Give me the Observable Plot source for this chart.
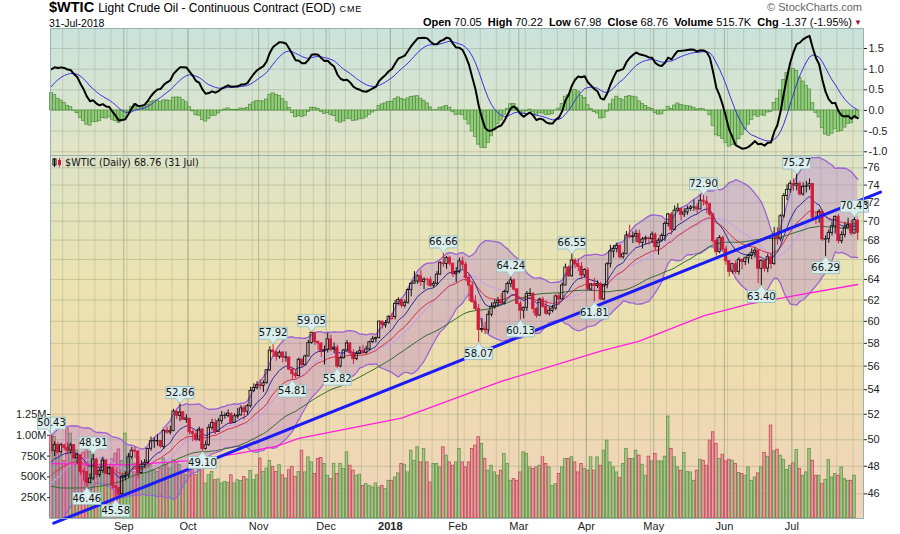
<!DOCTYPE html>
<html><head><meta charset="utf-8">
<script src="https://cdn.jsdelivr.net/npm/d3@7"></script>
<script src="https://cdn.jsdelivr.net/npm/@observablehq/plot@0.6"></script>
<style>
body{margin:0;background:#fff;width:900px;height:534px;position:relative;overflow:hidden;font-family:"Liberation Sans",Arial,sans-serif;color:#000;}
.abs{position:absolute;white-space:nowrap;}
</style></head><body>
<div class="abs" style="left:49px;top:0px;height:15px;line-height:15px;font-size:14.5px;font-weight:bold;">$WTIC <span style="font-weight:normal;font-size:12px;">Light Crude Oil - Continuous Contract (EOD)</span> <span style="font-weight:normal;font-size:9px;letter-spacing:0.8px;">CME</span></div>
<div class="abs" style="left:49px;top:17.5px;height:11px;line-height:11px;font-size:10.5px;">31-Jul-2018</div>
<div class="abs" style="right:38px;top:1px;line-height:12px;font-size:11px;color:#666;">&#169; StockCharts.com</div>
<div class="abs" style="right:48px;top:16px;line-height:12px;font-size:11px;"><b>Open</b> 70.05 &nbsp;<b>High</b> 70.22 &nbsp;<b>Low</b> 67.98 &nbsp;<b>Close</b> 68.76 &nbsp;<b>Volume</b> 515.7K &nbsp;<b>Chg</b> -1.37 (-1.95%)</div>
<div class="abs" style="left:854px;top:18px;line-height:9px;font-size:8px;color:#a0103a;">&#9660;</div>
<div class="abs" id="macdbg" style="left:50px;top:28px;width:813px;height:127px;background:linear-gradient(to bottom,#c9e2dc 0%,#d6e4d2 50%,#e3e4c4 100%);"></div>
<div class="abs" id="mainbg" style="left:50px;top:155px;width:813px;height:363px;background:linear-gradient(to bottom,#dde3c8 0%,#ebe3b0 35%,#efdcae 60%,#efd3bb 100%);"></div>
<script>
// ---------- trading calendar ----------
const monthLabels = ["Aug","Sep","Oct","Nov","Dec","2018","Feb","Mar","Apr","May","Jun","Jul"];
const monthYear   = [2017,2017,2017,2017,2017,2018,2018,2018,2018,2018,2018,2018];
const monthNum    = [8,9,10,11,12,1,2,3,4,5,6,7];
const monthDays = [
 [1,2,3,4,7,8,9,10,11,14,15,16,17,18,21,22,23,24,25,28,29,30,31],
 [1,5,6,7,8,11,12,13,14,15,18,19,20,21,22,25,26,27,28,29],
 [2,3,4,5,6,9,10,11,12,13,16,17,18,19,20,23,24,25,26,27,30,31],
 [1,2,3,6,7,8,9,10,13,14,15,16,17,20,21,22,24,27,28,29,30],
 [1,4,5,6,7,8,11,12,13,14,15,18,19,20,21,22,26,27,28,29],
 [2,3,4,5,8,9,10,11,12,16,17,18,19,22,23,24,25,26,29,30,31],
 [1,2,5,6,7,8,9,12,13,14,15,16,20,21,22,23,26,27,28],
 [1,2,5,6,7,8,9,12,13,14,15,16,19,20,21,22,23,26,27,28,29],
 [2,3,4,5,6,9,10,11,12,13,16,17,18,19,20,23,24,25,26,27,30],
 [1,2,3,4,7,8,9,10,11,14,15,16,17,18,21,22,23,24,25,29,30,31],
 [1,4,5,6,7,8,11,12,13,14,15,18,19,20,21,22,25,26,27,28,29],
 [2,3,5,6,9,10,11,12,13,16,17,18,19,20,23,24,25,26,27,30,31]
];
// ---------- prices (Aug 1 2017 - Jul 31 2018) ----------
const open = [
 50.21,49.15,49.61,49.05,49.57,49.37,49.18,49.58,48.60,48.83,47.60,47.57,46.77,47.10,48.50,47.36,47.66,48.42,47.44,47.85,46.55,46.43,45.98,
 47.22,47.32,48.68,49.17,49.10,47.50,48.08,48.25,49.31,49.88,49.87,49.90,49.45,50.70,50.56,50.67,52.20,51.87,52.15,51.55,
 51.63,50.60,50.41,50.01,50.78,49.30,49.60,50.93,51.31,50.61,51.46,51.89,51.86,52.03,51.30,51.82,51.91,52.48,52.20,52.65,53.91,54.16,
 54.39,54.31,54.55,55.63,57.36,57.19,56.80,57.18,56.73,56.75,55.69,55.34,55.15,56.56,56.08,56.84,58.03,58.94,58.12,57.98,57.31,
 57.41,58.35,57.48,57.61,55.97,56.68,57.37,57.98,57.15,56.61,57.05,57.31,57.15,57.47,58.10,58.37,58.48,59.98,59.63,59.85,
 60.20,60.39,61.62,62.00,61.45,61.74,62.97,63.58,63.79,64.31,63.74,63.96,63.94,63.38,63.58,64.48,65.60,65.52,66.13,65.57,64.51,
 64.74,65.79,65.46,64.16,63.38,61.80,61.14,59.21,59.30,59.18,60.61,61.33,61.69,61.91,61.67,62.78,63.56,63.90,63.02,
 61.63,61.00,61.26,62.58,62.59,61.16,60.53,62.03,61.37,60.70,60.97,61.20,62.35,62.05,63.41,65.18,64.31,65.89,65.54,65.26,64.39,
 64.87,63.00,63.52,63.36,63.55,62.05,63.43,65.52,66.81,67.08,67.38,66.21,66.53,68.46,68.30,68.37,68.65,67.69,68.06,68.18,68.09,
 68.56,67.26,67.94,68.42,69.71,70.72,69.05,71.15,71.35,70.71,70.95,71.32,71.48,71.50,71.27,72.25,72.12,71.85,70.70,67.89,66.74,68.20,
 67.02,65.82,64.76,65.51,64.74,65.96,65.73,66.11,66.35,66.65,66.90,65.05,65.86,65.08,66.21,65.53,68.59,68.07,70.52,72.77,73.46,
 74.15,73.93,74.13,72.95,73.81,73.84,74.12,70.37,70.34,71.02,68.05,68.09,68.75,69.45,70.47,67.88,68.53,69.29,69.60,68.68,70.05
];
const high = [
 50.43,49.84,49.80,49.73,49.65,49.76,49.74,49.63,48.98,48.84,47.78,47.62,47.45,48.91,48.56,47.81,48.67,48.44,47.96,47.93,46.58,46.47,47.39,
 47.60,48.95,49.42,49.42,49.17,48.41,48.50,49.35,50.20,50.13,50.38,49.93,50.76,50.97,51.06,52.40,52.30,52.86,52.22,51.96,
 51.70,50.75,50.72,50.98,50.86,49.90,51.18,51.60,51.60,51.65,52.22,52.10,52.34,52.11,52.03,52.45,52.69,52.67,52.80,54.20,54.49,54.67,
 54.84,54.76,55.71,57.69,57.92,57.30,57.34,57.25,57.24,56.79,55.83,55.72,56.70,56.64,56.96,58.26,59.05,58.98,58.23,58.04,57.77,
 58.90,58.74,58.03,57.84,56.87,57.45,58.25,58.08,57.44,57.27,57.69,57.83,57.74,58.18,58.63,58.57,60.01,60.01,60.07,60.51,
 60.74,61.96,62.21,62.04,61.98,63.07,63.67,64.77,64.48,64.89,64.16,64.11,64.24,63.80,64.78,65.78,66.66,66.30,66.31,65.57,65.18,
 66.14,66.23,65.75,64.54,63.74,62.42,61.58,60.25,59.92,60.97,61.72,62.01,62.26,62.62,62.95,63.74,64.24,64.05,63.12,
 61.88,61.34,62.82,63.09,62.69,61.28,62.19,62.27,61.93,61.29,61.49,62.48,62.67,63.68,65.53,65.33,66.55,66.07,66.03,65.69,65.06,
 65.15,63.60,64.10,63.86,63.73,63.54,65.67,67.45,67.43,67.68,67.52,66.71,68.90,69.56,68.86,69.04,69.03,68.26,68.42,68.31,68.85,
 68.74,68.16,68.66,69.94,70.84,70.93,71.66,71.89,71.40,71.35,71.62,71.71,72.30,71.92,72.83,72.90,72.73,71.98,70.88,68.18,68.46,68.40,
 67.38,65.89,65.59,65.84,66.15,66.00,66.24,66.53,67.08,67.18,66.99,65.96,65.94,66.54,66.58,69.33,69.30,70.71,73.06,74.03,74.46,
 74.70,75.27,74.39,74.26,74.43,74.70,74.18,70.97,71.27,71.19,68.44,69.07,69.90,70.58,70.71,68.87,69.81,70.31,70.08,70.43,70.22
];
const low = [
 49.05,48.72,48.92,48.87,49.15,48.86,48.90,48.49,48.15,47.34,46.90,46.46,46.73,46.96,47.14,47.18,47.47,47.37,47.30,46.36,45.58,45.75,45.91,
 46.92,47.13,48.53,48.58,47.06,47.42,47.87,48.11,49.12,49.34,49.51,49.35,49.27,50.41,50.37,50.62,51.57,51.42,51.52,51.28,
 50.38,49.85,49.84,49.86,49.10,49.20,49.48,50.72,50.40,50.55,51.21,51.60,51.73,51.23,51.30,51.61,51.87,51.55,51.91,52.49,53.77,54.00,
 54.01,53.78,54.47,55.56,56.75,56.42,56.60,56.29,56.35,55.61,54.81,54.90,55.09,55.83,56.07,56.82,57.91,57.80,57.35,56.75,56.10,
 57.14,57.24,57.07,55.82,55.86,56.62,57.31,56.88,56.14,56.47,57.00,57.02,57.03,57.29,57.99,58.04,58.40,59.28,59.37,59.75,
 60.10,60.14,61.51,61.24,61.24,61.60,62.31,63.54,63.51,63.32,62.99,63.36,63.22,63.15,63.38,64.39,65.18,65.00,65.32,64.21,63.67,
 64.55,65.01,63.76,61.86,61.72,61.00,58.07,58.95,58.78,58.85,60.41,61.13,61.29,61.57,61.53,62.56,63.18,62.84,61.58,
 60.13,60.22,60.92,62.32,60.71,60.30,60.50,61.23,60.55,60.49,60.78,61.03,61.48,62.04,63.36,64.22,64.22,65.07,64.75,64.05,64.14,
 62.90,62.86,61.81,63.11,61.95,61.93,63.07,65.13,66.13,66.67,66.03,66.03,66.51,68.10,67.63,67.74,67.40,67.06,67.51,67.48,67.64,
 66.90,66.42,67.81,67.85,69.37,68.52,68.98,70.99,70.03,70.40,70.64,71.06,71.06,70.76,71.25,71.65,70.81,70.46,67.58,66.36,66.58,66.76,
 65.40,64.24,64.53,64.49,64.43,64.95,65.37,65.54,65.98,66.13,63.59,63.40,64.72,64.65,64.98,65.41,67.46,67.82,70.30,72.24,73.10,
 73.30,73.36,72.75,72.75,73.11,73.41,70.18,69.63,69.76,67.84,66.29,67.66,68.42,68.62,67.61,67.61,68.23,69.24,68.45,68.61,67.98
];
const close = [
 49.16,49.59,49.03,49.58,49.39,49.17,49.56,48.59,48.82,47.59,47.55,46.78,47.09,48.51,47.37,47.64,48.41,47.43,47.87,46.57,46.44,45.96,47.23,
 47.29,48.66,49.16,49.09,47.48,48.07,48.23,49.30,49.89,49.89,49.91,49.48,50.69,50.55,50.66,52.22,51.88,52.14,51.56,51.67,
 50.58,50.42,49.98,50.79,49.29,49.58,50.92,51.30,50.60,51.45,51.87,51.88,52.04,51.29,51.84,51.90,52.47,52.18,52.64,53.90,54.15,54.38,
 54.30,54.54,55.64,57.35,57.20,56.81,57.17,56.74,56.76,55.70,55.33,55.14,56.55,56.09,56.83,58.02,58.95,58.11,57.99,57.30,57.40,
 58.36,57.47,57.62,55.96,56.69,57.36,57.99,57.14,56.60,57.04,57.30,57.16,57.46,58.09,58.36,58.47,59.97,59.64,59.84,60.42,
 60.37,61.63,62.01,61.44,61.73,62.96,63.57,63.80,64.30,63.73,63.97,63.95,63.37,63.57,64.47,65.61,65.51,66.14,65.56,64.50,64.73,
 65.80,65.45,64.15,63.39,61.79,61.15,59.20,59.29,59.19,60.60,61.34,61.68,61.90,61.68,62.77,63.55,63.91,63.01,61.64,
 60.99,61.25,62.57,62.60,61.15,60.52,62.04,61.36,60.71,60.96,61.19,62.34,62.06,63.40,65.17,64.30,65.88,65.55,65.25,64.38,64.94,
 63.01,63.51,63.37,63.54,62.06,63.42,65.51,66.82,67.07,67.39,66.22,66.52,68.47,68.29,68.38,68.64,67.70,68.05,68.19,68.10,68.57,
 67.25,67.93,68.43,69.72,70.73,69.06,71.14,71.36,70.70,70.96,71.31,71.49,71.49,71.28,72.24,72.13,71.84,70.71,67.88,66.73,68.21,67.04,
 65.81,64.75,65.52,64.73,65.95,65.74,66.10,66.36,66.64,66.89,65.06,65.85,65.07,66.22,65.54,68.58,68.08,70.53,72.76,73.45,74.15,
 73.94,74.14,72.94,73.80,73.85,74.11,70.38,70.33,71.01,68.06,68.08,68.76,69.46,70.46,67.89,68.52,69.30,69.61,68.69,70.13,68.76
];
// volume in thousands
const volumeK = [
 820,980,870,760,690,1080,1020,880,820,760,790,880,800,760,690,640,720,700,640,710,780,830,690,
 1020,760,720,660,740,600,620,690,640,580,560,600,720,640,600,700,680,640,560,520,
 560,600,520,580,640,420,520,560,460,470,420,440,430,520,420,460,450,500,470,570,460,520,
 720,560,600,690,620,560,640,520,480,580,620,500,560,
 815,554,735,674,534,715,727,654,514,473,654,534,654,594,795,634,574,514,526,392,
 413,392,372,421,372,392,352,453,453,493,542,654,646,554,815,694,856,674,835,674,
 433,654,654,614,856,755,674,634,674,835,674,614,674,835,876,977,896,715,574,634,
 554,514,574,775,654,453,473,453,554,795,775,614,594,614,634,735,654,614,392,413,
 534,614,715,715,735,674,554,654,594,574,735,574,735,
 634,815,936,674,614,554,485,654,835,715,715,815,755,646,514,743,686,775,686,686,743,1226,
 835,735,614,574,787,561,554,453,574,706,694,634,936,1037,896,715,767,686,706,694,654,
 546,534,514,614,453,493,542,614,787,743,1117,807,827,755,706,582,634,662,823,594,514,
 554,835,694,514,514,413,465,702,493,534,514,614,473,453,453,516
];
// closes before the window, used only to warm up the indicators
const warmupClose = [
 48.84,47.66,47.82,45.52,46.22,46.43,45.88,47.33,47.83,47.84,48.85,48.66,49.07,49.35,50.33,50.73,51.47,51.36,48.90,49.80,49.66,48.32,
 48.36,47.66,47.40,48.19,45.72,45.64,45.83,46.08,46.46,44.73,44.46,44.74,44.20,43.23,42.53,42.74,43.01,43.38,44.24,44.74,44.93,46.04,
 46.07,45.13,45.52,44.23,44.40,45.04,45.49,46.08,46.54,46.02,46.40,47.12,46.79,45.77,46.34,47.89,48.75,49.04,49.71,50.17
];
// 200-day moving average (day index, value)
const ma200Idx = [0,24,42,57,70,77,109,140,171,183,203,217,231,251];
const ma200Val = [48.2,48.1,48.4,48.9,49.5,50.1,51.7,54.7,57.3,58.2,60.5,61.6,62.4,63.5];
// trend line end points (day index, price)
const trendIdx = [0.7, 258.1];
const trendVal = [43.97, 73.2];
// price annotations
const labelIdx = [0,13,11,20,40,47,69,75,81,89,122,133,143,146,162,169,203,221,232,241,250];
const labelVal = [50.43,48.91,46.46,45.58,52.86,49.10,57.92,54.81,59.05,55.82,66.66,58.07,64.24,60.13,66.55,61.81,72.90,63.40,75.27,66.29,70.43];
const labelSide = ["hi","hi","lo","lo","hi","lo","hi","lo","hi","lo","hi","lo","hi","lo","hi","lo","hi","lo","hi","lo","hi"];
// axes ticks
const priceTicks = [46,48,50,52,54,56,58,60,62,64,66,68,70,72,74,76];
const volTicksK = [250,500,750,1000,1250];
const macdTicks = [-1,-0.5,0,0.5,1,1.5];

// ---------- derived rows ----------
const dates = [];
monthDays.forEach((days,m)=>days.forEach(d=>dates.push(new Date(Date.UTC(monthYear[m],monthNum[m]-1,d)))));
const all = warmupClose.concat(close);
const W = warmupClose.length;
function ema(a,n){const k=2/(n+1);const out=[];let p;a.forEach((v,j)=>{p=j===0?v:v*k+p*(1-k);out.push(p);});return out;}
function smaAt(a,n,j){let s=0;for(let t=j-n+1;t<=j;t++)s+=a[t];return s/n;}
function sdAt(a,n,j){const m=smaAt(a,n,j);let s=0;for(let t=j-n+1;t<=j;t++)s+=(a[t]-m)**2;return Math.sqrt(s/n);}
const e10=ema(all,10), e20=ema(all,20), e12=ema(all,12), e26=ema(all,26);
const macdAll=e12.map((v,j)=>v-e26[j]);
const sigAll=ema(macdAll,9);
const rows = close.map((c,i)=>{
  const j=W+i, m20=smaAt(all,20,j), sd=sdAt(all,20,j);
  return {i, o:open[i], h:high[i], l:low[i], c, v:volumeK[i], prev:all[j-1], date:dates[i],
    ema10:e10[j], ema20:e20[j], sma20:m20, bbU:m20+2*sd, bbL:m20-2*sd, sma50:smaAt(all,50,j),
    macd:macdAll[j], sig:sigAll[j], hist:macdAll[j]-sigAll[j]};
});
const weekStarts=[], monthStarts=[], monthTickLabel=new Map();
rows.forEach((r,i)=>{
  if(i===0) return;
  const d=r.date, p=rows[i-1].date;
  if(d.getUTCDay()<p.getUTCDay()) weekStarts.push(i-0.5);
  if(d.getUTCMonth()!==p.getUTCMonth()){ monthStarts.push(i-0.5); monthTickLabel.set(i-0.5, monthLabels[monthStarts.length]); }
});
const ma200 = ma200Idx.map((i,k)=>({i, v:ma200Val[k]}));
const trend = trendIdx.map((i,k)=>({i, v:trendVal[k]}));
const labels = labelIdx.map((i,k)=>({i, v:labelVal[k], side:labelSide[k], text:labelVal[k].toFixed(2)}));

// ---------- layout ----------
const xDomain=[-0.3,252.8];
const RED="#d01c3c";
const gridC="#8c9a78";
const base={width:900,marginLeft:50,marginRight:37,marginTop:0,
  style:{background:"transparent",fontFamily:"Liberation Sans, Arial, sans-serif",fontSize:"11px",overflow:"visible"}};
function place(svg,top){svg.style.position="absolute";svg.style.left="0px";svg.style.top=top+"px";document.body.appendChild(svg);}
const grid = (yTicks)=>[
  Plot.ruleY(yTicks,{stroke:gridC,strokeOpacity:0.38}),
  Plot.ruleX(weekStarts,{stroke:gridC,strokeOpacity:0.3}),
  Plot.ruleX(monthStarts,{stroke:gridC,strokeOpacity:0.6})
];

// MACD panel
place(Plot.plot({...base,height:127,marginBottom:0,
  x:{domain:xDomain,axis:null}, y:{domain:[-1.09,1.985],axis:null},
  marks:[
    ...grid(macdTicks),
    Plot.rect(rows,{x1:d=>d.i-0.5,x2:d=>d.i+0.5,y1:0,y2:"hist",fill:"#93cb7c",stroke:"#4e8c3c",strokeWidth:0.7}),
    Plot.lineY(rows,{x:"i",y:"sig",stroke:"#3c2fe0",strokeWidth:1}),
    Plot.lineY(rows,{x:"i",y:"macd",stroke:"#000",strokeWidth:2}),
    Plot.axisY(macdTicks,{anchor:"right",label:null,tickSize:3,tickPadding:2,tickFormat:d=>d.toFixed(1),color:"#222"}),
    Plot.frame({stroke:"#97b3b1"})
  ]}),28);

// main panel: grid
const yPrice={type:"log",domain:[44.29,77.45],axis:null};
place(Plot.plot({...base,height:363,marginBottom:0,
  x:{domain:xDomain,axis:null}, y:yPrice,
  marks:[...grid(priceTicks)]}),155);

// volume layer
place(Plot.plot({...base,height:363,marginBottom:0,
  x:{domain:xDomain,axis:null}, y:{domain:[0,4363],axis:null},
  marks:[
    Plot.rect(rows,{x1:d=>d.i-0.4,x2:d=>d.i+0.4,y1:0,y2:"v",
      fill:d=>d.c>=d.prev?"#93bd78":"#e08c95", stroke:d=>d.c>=d.prev?"#5f9448":"#c2485a",
      fillOpacity:0.72,strokeWidth:0.8}),
    Plot.axisY(volTicksK,{anchor:"left",label:null,tickSize:3,tickPadding:1,color:"#222",
      tickFormat:d=>d>=1000?(d/1000).toFixed(2)+"M":d+"K"})
  ]}),155);

// price-label boxes: a callout shape drawn as a dot symbol
const calloutUp = {draw(ctx){ // box above the point, pointer down to it
  ctx.moveTo(0,0); ctx.lineTo(-4,-5); ctx.lineTo(-14,-5); ctx.lineTo(-14,-17); ctx.lineTo(14,-17); ctx.lineTo(14,-5); ctx.lineTo(4,-5); ctx.closePath(); }};
const calloutDown = {draw(ctx){ // box below the point, pointer up to it
  ctx.moveTo(0,0); ctx.lineTo(4,5); ctx.lineTo(14,5); ctx.lineTo(14,17); ctx.lineTo(-14,17); ctx.lineTo(-14,5); ctx.lineTo(-4,5); ctx.closePath(); }};
const hi=labels.filter(d=>d.side==="hi"), lo=labels.filter(d=>d.side==="lo");
const upC=d=>d.c<d.prev?RED:"#111";
place(Plot.plot({...base,height:379,marginBottom:16,
  x:{domain:xDomain,axis:null}, y:yPrice,
  marks:[
    Plot.areaY(rows,{x:"i",y1:"bbL",y2:"bbU",fill:"#a157d8",fillOpacity:0.27,clip:true}),
    Plot.lineY(rows,{x:"i",y:"bbU",stroke:"#9b62d6",strokeWidth:1.3,clip:true}),
    Plot.lineY(rows,{x:"i",y:"bbL",stroke:"#9b62d6",strokeWidth:1.3,clip:true}),
    Plot.lineY(rows,{x:"i",y:"sma20",stroke:"#c79ee3",strokeWidth:1.3,strokeDasharray:"2,2"}),
    Plot.lineY(rows,{x:"i",y:"sma50",stroke:"#2f6a2f",strokeWidth:1}),
    Plot.lineY(rows,{x:"i",y:"ema20",stroke:"#d23040",strokeWidth:1}),
    Plot.lineY(rows,{x:"i",y:"ema10",stroke:"#2a2a9c",strokeWidth:1}),
    Plot.line(ma200,{x:"i",y:"v",stroke:"#ff1fdc",strokeWidth:1.3}),
    Plot.ruleX(rows,{x:"i",y1:"l",y2:d=>Math.min(d.o,d.c),stroke:upC,strokeWidth:1}),
    Plot.ruleX(rows,{x:"i",y1:d=>Math.max(d.o,d.c),y2:"h",stroke:upC,strokeWidth:1}),
    Plot.rect(rows,{x1:d=>d.i-0.36,x2:d=>d.i+0.36,y1:"o",y2:"c",stroke:upC,
      fill:d=>d.c<d.o?upC(d):"none",strokeWidth:0.9}),
    Plot.line(trend,{x:"i",y:"v",stroke:"#1b1bf5",strokeWidth:3}),
    Plot.dot(hi,{x:"i",y:"v",symbol:calloutUp,r:5,fill:"#dbeeee",stroke:"#9fc2c2",strokeWidth:1}),
    Plot.dot(lo,{x:"i",y:"v",symbol:calloutDown,r:5,fill:"#dbeeee",stroke:"#9fc2c2",strokeWidth:1}),
    Plot.text(hi,{x:"i",y:"v",text:"text",dy:-11,fontSize:10,fill:"#111",fontFamily:"DejaVu Sans, sans-serif"}),
    Plot.text(lo,{x:"i",y:"v",text:"text",dy:11,fontSize:10,fill:"#111",fontFamily:"DejaVu Sans, sans-serif"}),
    Plot.axisY(priceTicks,{anchor:"right",label:null,tickSize:3,tickPadding:1,color:"#222"}),
    Plot.axisX(monthStarts.filter(t=>monthTickLabel.get(t)!=="2018"),{anchor:"bottom",label:null,tickSize:0,tickPadding:4,
      tickFormat:t=>monthTickLabel.get(t),color:"#222",fontSize:11}),
    Plot.axisX(monthStarts.filter(t=>monthTickLabel.get(t)==="2018"),{anchor:"bottom",label:null,tickSize:0,tickPadding:4,
      tickFormat:t=>monthTickLabel.get(t),color:"#222",fontSize:11,fontWeight:"bold"}),
    Plot.frame({stroke:"#97b3b1"})
  ]}),155);
</script>
<div class="abs" style="left:52px;top:157px;font-family:'DejaVu Sans',sans-serif;font-size:9.6px;color:#111;">
<svg width="10" height="9" style="vertical-align:-1px"><rect x="1" y="1" width="3" height="6" fill="none" stroke="#111"/><line x1="2.5" y1="0" x2="2.5" y2="9" stroke="#111"/><rect x="6" y="2" width="3" height="5" fill="#d01c3c"/><line x1="7.5" y1="0" x2="7.5" y2="9" stroke="#d01c3c"/></svg> $WTIC (Daily) 68.76 (31 Jul)</div>
</body></html>
